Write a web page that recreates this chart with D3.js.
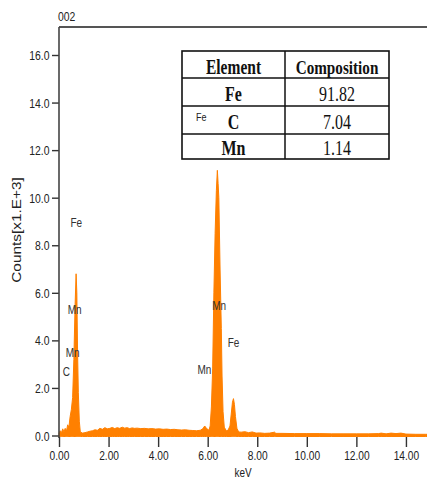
<!DOCTYPE html>
<html>
<head>
<meta charset="utf-8">
<script src="https://cdn.jsdelivr.net/npm/d3@7.9.0/dist/d3.min.js"></script>
<style>
  html, body { margin: 0; padding: 0; background: #fff; }
  svg { display: block; }
</style>
</head>
<body>
<svg id="chart" width="427" height="479"></svg>
<script>
// spectrum (keV, counts x1000)
const energy = [
  0.00, 0.05, 0.10, 0.15, 0.20, 0.25, 0.30, 0.35, 0.40, 0.45,
  0.50, 0.55, 0.60, 0.65, 0.69, 0.72, 0.75, 0.78, 0.82, 0.86,
  0.95, 1.05, 1.15, 1.25, 1.35, 1.45, 1.55, 1.65, 1.75, 1.85,
  1.95, 2.05, 2.15, 2.25, 2.35, 2.45, 2.55, 2.65, 2.75, 2.85,
  2.95, 3.05, 3.15, 3.30, 3.45, 3.60, 3.75, 3.90, 4.05, 4.20,
  4.35, 4.50, 4.65, 4.80, 4.95, 5.10, 5.25, 5.40, 5.55, 5.70,
  5.80, 5.88, 5.95, 6.05, 6.10, 6.15, 6.20, 6.25, 6.30, 6.35,
  6.39, 6.42, 6.45, 6.50, 6.55, 6.58, 6.62, 6.67, 6.75, 6.82,
  6.90, 6.95, 7.00, 7.04, 7.08, 7.12, 7.18, 7.25, 7.35, 7.50,
  7.65, 7.80, 7.95, 8.10, 8.30, 8.50, 8.70, 8.75, 9.00, 9.50,
  10.00, 10.50, 11.00, 11.50, 12.00, 12.50, 12.90, 13.00, 13.20, 13.40,
  13.60, 13.80, 14.00, 14.40, 14.80, 14.85
];
const counts = [
  0.10, 0.20, 0.12, 0.28, 0.15, 0.30, 0.18, 0.45, 0.35, 0.80,
  1.10, 1.60, 3.20, 5.50, 6.80, 6.00, 3.50, 1.80, 0.60, 0.15,
  0.10, 0.12, 0.15, 0.18, 0.20, 0.24, 0.22, 0.30, 0.26, 0.33,
  0.28, 0.30, 0.34, 0.29, 0.33, 0.30, 0.35, 0.31, 0.33, 0.29,
  0.32, 0.30, 0.31, 0.29, 0.30, 0.28, 0.29, 0.27, 0.28, 0.26,
  0.27, 0.25, 0.26, 0.24, 0.23, 0.24, 0.22, 0.21, 0.20, 0.22,
  0.28, 0.40, 0.30, 0.22, 0.40, 1.20, 2.80, 6.00, 8.50, 10.30,
  11.15, 10.60, 10.00, 7.00, 4.50, 2.50, 1.00, 0.35, 0.20, 0.22,
  0.40, 0.90, 1.40, 1.55, 1.30, 0.80, 0.30, 0.15, 0.14, 0.16,
  0.12, 0.15, 0.10, 0.11, 0.09, 0.10, 0.14, 0.09, 0.09, 0.08,
  0.08, 0.08, 0.07, 0.07, 0.07, 0.07, 0.08, 0.10, 0.07, 0.10,
  0.08, 0.10, 0.06, 0.05, 0.05, 0.05
];

// peak labels, placed in data units (keV, counts)
const peakNames  = ['Fe', 'Mn', 'Mn', 'C', 'Mn', 'Mn', 'Fe'];
const peakEnergy = [0.46, 0.35, 0.27, 0.15, 6.18, 5.59, 6.81];
const peakCounts = [8.77, 5.11, 3.30, 2.50, 5.28, 2.59, 3.72];

const xTicks = [0, 2, 4, 6, 8, 10, 12, 14];
const yTicks = [0, 2, 4, 6, 8, 10, 12, 14, 16];

// composition table
const tableHeader = ['Element', 'Composition'];
const elements = ['Fe', 'C', 'Mn'];
const composition = ['91.82', '7.04', '1.14'];

const svg = d3.select('#chart');
const orange = '#ff8000';
const sans = '"Liberation Sans", Arial, sans-serif';
const serif = '"Liberation Serif", "Times New Roman", serif';
const stretch = 1.22; // the picture is a little taller than its text

const x = d3.scaleLinear().domain([0, 14.85]).range([59, 427]);
const y = d3.scaleLinear().domain([0, 16]).range([435.5, 55]);

// spectrum fill
const pts = energy.map((e, i) => [e, counts[i]]);
const area = d3.area()
  .x(d => x(d[0]))
  .y0(y(0) + 1)
  .y1(d => y(d[1]));
svg.append('path')
  .datum(pts)
  .attr('d', area)
  .attr('fill', orange)
  .attr('stroke', orange)
  .attr('stroke-width', 1);

// frame top line
svg.append('line')
  .attr('x1', x(0)).attr('x2', 427)
  .attr('y1', 27).attr('y2', 27)
  .attr('stroke', '#555').attr('stroke-width', 2);

// y axis
const yAxis = svg.append('g')
  .attr('transform', `translate(${x(0)},0)`)
  .call(d3.axisLeft(y).tickValues(yTicks).tickFormat(d3.format('.1f')).tickSize(7).tickSizeOuter(0));
yAxis.select('.domain').remove();
yAxis.append('line')
  .attr('x1', 0).attr('x2', 0).attr('y1', 27).attr('y2', 438)
  .attr('stroke', '#444').attr('stroke-width', 1.6);
yAxis.selectAll('.tick line').attr('stroke', '#333').attr('stroke-width', 1.4);
yAxis.selectAll('.tick text')
  .attr('x', -9.5)
  .attr('dy', '0.36em')
  .attr('transform', `scale(1,${stretch})`)
  .attr('font-family', sans).attr('font-size', 10.4).attr('fill', '#222');

// x axis
const xAxis = svg.append('g')
  .attr('transform', `translate(0,437)`)
  .call(d3.axisBottom(x).tickValues(xTicks).tickFormat(d3.format('.2f')).tickSize(10).tickSizeOuter(0));
xAxis.select('.domain').remove();
xAxis.selectAll('.tick line').attr('stroke', '#333').attr('stroke-width', 1.4);
xAxis.selectAll('.tick text')
  .attr('y', 0)
  .attr('dy', '1.88em')
  .attr('transform', `scale(1,${stretch})`)
  .attr('font-family', sans).attr('font-size', 10.2).attr('fill', '#222');

function stretchedText(px, py, str, size, family, sy) {
  return svg.append('text')
    .attr('transform', `translate(${px},${py}) scale(1,${sy || stretch})`)
    .attr('font-family', family || sans)
    .attr('font-size', size)
    .attr('fill', '#222')
    .text(str);
}

stretchedText(58, 21, '002', 10.4);
stretchedText(243, 477, 'keV', 10).attr('text-anchor', 'middle');

svg.append('text')
  .attr('transform', `translate(21,230) rotate(-90) scale(${stretch},1)`)
  .attr('text-anchor', 'middle')
  .attr('font-family', sans).attr('font-size', 12.6).attr('fill', '#222')
  .text('Counts[x1.E+3]');

// peak labels
peakNames.forEach((n, i) => {
  stretchedText(x(peakEnergy[i]), y(peakCounts[i]), n, 10).attr('fill', '#333');
});

// table
const tx = 182, tw = 207, colSplit = 285;
const rowEdges = [51, 78, 106, 134, 159];
const tbl = svg.append('g');
tbl.append('rect')
  .attr('x', tx).attr('y', rowEdges[0])
  .attr('width', tw).attr('height', rowEdges[4] - rowEdges[0])
  .attr('fill', '#fff').attr('stroke', '#111').attr('stroke-width', 1.6);
rowEdges.slice(1, 4).forEach(r => {
  tbl.append('line').attr('x1', tx).attr('x2', tx + tw).attr('y1', r).attr('y2', r)
    .attr('stroke', '#111').attr('stroke-width', 1.5);
});
tbl.append('line').attr('x1', colSplit).attr('x2', colSplit)
  .attr('y1', rowEdges[0]).attr('y2', rowEdges[4])
  .attr('stroke', '#111').attr('stroke-width', 1.5);

const c1 = (tx + colSplit) / 2, c2 = (colSplit + tx + tw) / 2;
const baselines = [73.5, 101, 128.5, 155];
const tStretch = 1.3;
stretchedText(c1, baselines[0], tableHeader[0], 15.5, serif, tStretch)
  .attr('text-anchor', 'middle').attr('font-weight', 'bold').attr('fill', '#111');
stretchedText(c2, baselines[0], tableHeader[1], 15.2, serif, tStretch)
  .attr('text-anchor', 'middle').attr('font-weight', 'bold').attr('fill', '#111');
elements.forEach((el, i) => {
  stretchedText(c1, baselines[i + 1], el, 16, serif, tStretch)
    .attr('text-anchor', 'middle').attr('font-weight', 'bold').attr('fill', '#111');
  stretchedText(c2, baselines[i + 1], composition[i], 16, serif, tStretch)
    .attr('text-anchor', 'middle').attr('fill', '#111');
});

// small Fe label that sits over the table
stretchedText(x(5.53), y(13.22), 'Fe', 9).attr('fill', '#222');
</script>
</body>
</html>
